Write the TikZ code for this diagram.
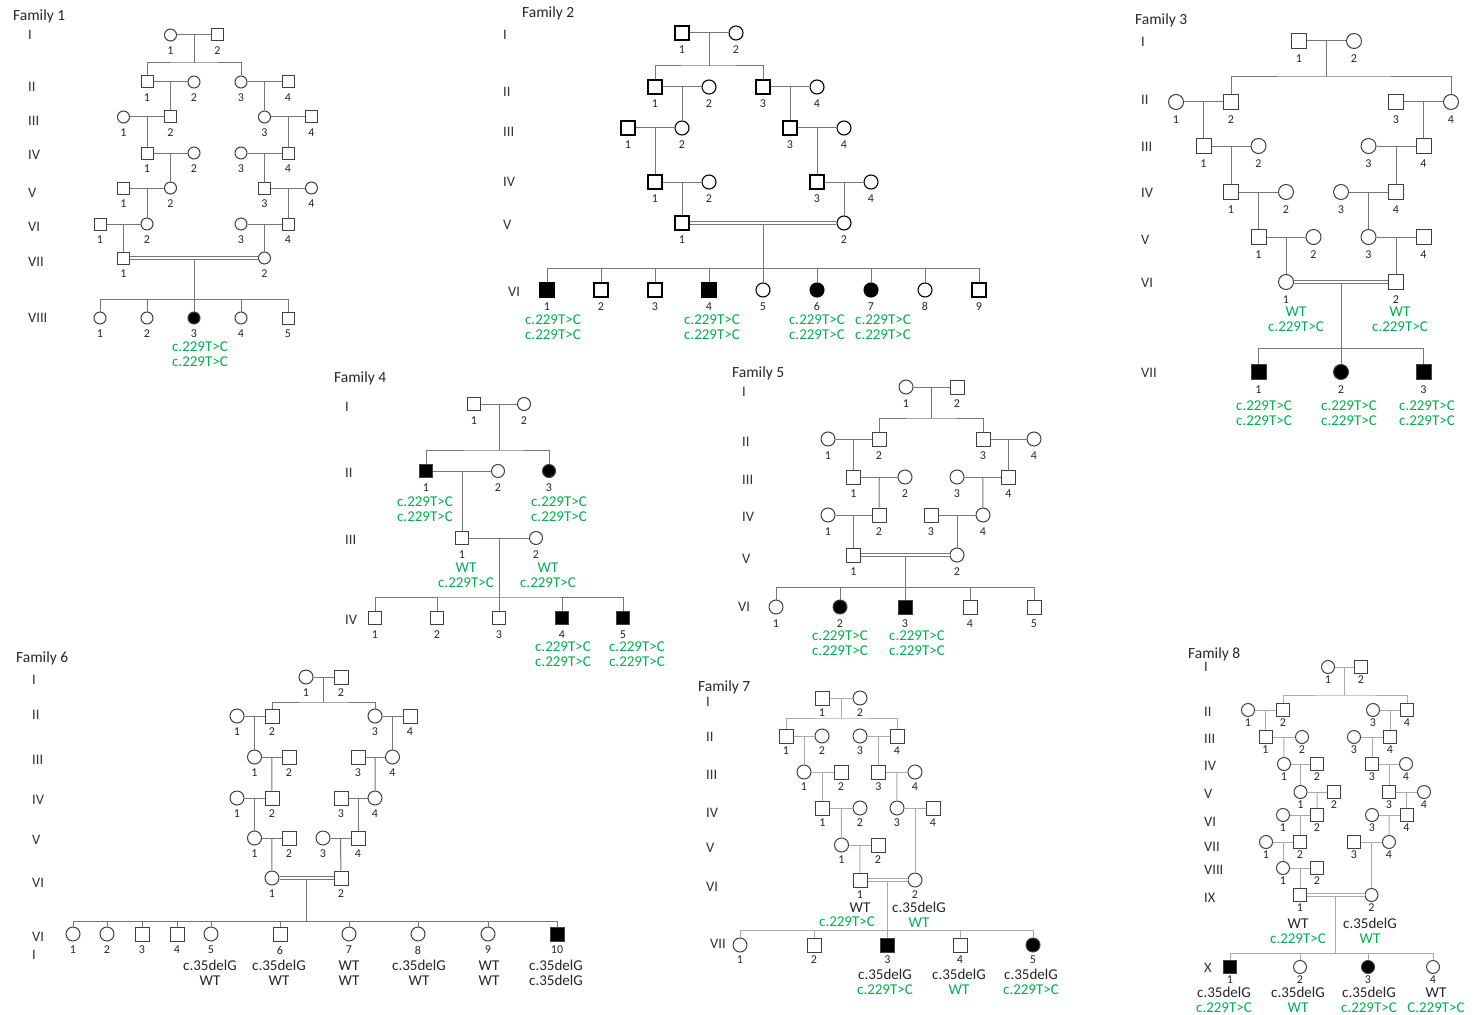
\documentclass[tikz,border=0pt]{standalone}
\usepackage{fontspec}
\setmainfont{Carlito}
\usepackage{xcolor}
\definecolor{gtgreen}{RGB}{0,176,80}
\definecolor{lngray}{RGB}{118,118,118}
\definecolor{lnlight}{RGB}{170,170,170}
\newcommand{\gtblack}[1]{\textcolor{black!85}{#1}}
\usepackage{tikz}
\usetikzlibrary{calc}

\begin{document}
\begin{tikzpicture}[x=1pt,y=-1pt,
  font=\fontsize{11}{12}\selectfont,
  ind/.style={draw=black!75,line width=1pt,minimum size=14pt,inner sep=0pt},
  ma/.style={ind,rectangle},
  fe/.style={ind,circle},
  maa/.style={ma,fill=black},
  fea/.style={fe,fill=black},
  ln/.style={draw=lngray,line width=1pt},
  cons/.style={ln,double=white,double distance=1.8pt,line width=0.9pt},
  gen/.style={anchor=west,inner sep=0pt,align=left,font=\fontsize{14.5}{18}\selectfont,text=black!80},
  ttl/.style={anchor=west,inner sep=0pt,font=\fontsize{15.5}{17}\selectfont,text=black!85},
  gt/.style={inner sep=0pt,align=center,font=\fontsize{15}{14.5}\selectfont,text=gtgreen},
  gk/.style={gt,text=black!85},
  every label/.style={inner sep=0pt,font=\fontsize{12}{13}\selectfont,text=black!85},
  label distance=4pt
]
\path[use as bounding box,fill=white] (0,0) rectangle (1474,1014);

% Family 1
\begin{scope}[ind/.append style={minimum size=12pt},label distance=5.5pt]
\node[ttl] (f1t) at (13,16) {Family 1};
\foreach \g/\y [count=\i] in {I/35,II/87,III/121,IV/155,V/193,VI/227,VII/262,VIII/318}
  \node[gen] (f1r\i) at (28,\y) {\g};
\node[fe,label=below:1] (f1a1) at (170.5,35) {}; \node[ma,label=below:2] (f1a2) at (217.5,35) {};
\node[ma,label=below:1] (f1b1) at (147,82) {}; \node[fe,label=below:2] (f1b2) at (194,82) {};
\node[fe,label=below:3] (f1b3) at (241,82) {}; \node[ma,label=below:4] (f1b4) at (288,82) {};
\node[fe,label=below:1] (f1c1) at (123.5,117) {}; \node[ma,label=below:2] (f1c2) at (170.5,117) {};
\node[fe,label=below:3] (f1c3) at (264.5,117) {}; \node[ma,label=below:4] (f1c4) at (311.5,117) {};
\node[ma,label=below:1] (f1d1) at (147,153) {}; \node[fe,label=below:2] (f1d2) at (194,153) {};
\node[fe,label=below:3] (f1d3) at (241,153) {}; \node[ma,label=below:4] (f1d4) at (288,153) {};
\node[ma,label=below:1] (f1e1) at (123.5,188) {}; \node[fe,label=below:2] (f1e2) at (170.5,188) {};
\node[ma,label=below:3] (f1e3) at (264.5,188) {}; \node[fe,label=below:4] (f1e4) at (311.5,188) {};
\node[ma,label=below:1] (f1f1) at (100,224) {}; \node[fe,label=below:2] (f1f2) at (147,224) {};
\node[fe,label=below:3] (f1f3) at (241,224) {}; \node[ma,label=below:4] (f1f4) at (288,224) {};
\node[ma,label=below:1] (f1g1) at (123.5,258) {}; \node[fe,label=below:2] (f1g2) at (264.5,258) {};
\node[fe,label=below:1] (f1h1) at (100,318) {}; \node[fe,label=below:2] (f1h2) at (147,318) {};
\node[fea,label=below:3] (f1h3) at (194,318) {}; \node[fe,label=below:4] (f1h4) at (241,318) {};
\node[ma,label=below:5] (f1h5) at (288,318) {};
\node[gt] (f1h3g) at (200,354) {c.229T>C\\c.229T>C};
\draw[ln] (f1a1) -- (f1a2) coordinate[midway] (f1ma);
\draw[ln] (f1ma) -- ++(0,28) coordinate (f1sa); \draw[ln] (f1b1) |- (f1sa) -| (f1b3);
\draw[ln] (f1b1) -- (f1b2) coordinate[midway] (f1mb1); \draw[ln] (f1b3) -- (f1b4) coordinate[midway] (f1mb2);
\draw[ln] (f1mb1) -- (f1c2); \draw[ln] (f1mb2) -- (f1c3);
\draw[ln] (f1c1) -- (f1c2) coordinate[midway] (f1mc1); \draw[ln] (f1c3) -- (f1c4) coordinate[midway] (f1mc2);
\draw[ln] (f1mc1) -- (f1d1); \draw[ln] (f1mc2) -- (f1d4);
\draw[ln] (f1d1) -- (f1d2) coordinate[midway] (f1md1); \draw[ln] (f1d3) -- (f1d4) coordinate[midway] (f1md2);
\draw[ln] (f1md1) -- (f1e2); \draw[ln] (f1md2) -- (f1e3);
\draw[ln] (f1e1) -- (f1e2) coordinate[midway] (f1me1); \draw[ln] (f1e3) -- (f1e4) coordinate[midway] (f1me2);
\draw[ln] (f1me1) -- (f1f2); \draw[ln] (f1me2) -- (f1f4);
\draw[ln] (f1f1) -- (f1f2) coordinate[midway] (f1mf1); \draw[ln] (f1f3) -- (f1f4) coordinate[midway] (f1mf2);
\draw[ln] (f1mf1) -- (f1g1); \draw[ln] (f1mf2) -- (f1g2);
\draw[cons] (f1g1) -- (f1g2) coordinate[midway,yshift=-1.4pt] (f1mg);
\draw[ln] (f1mg) -- ++(0,40) coordinate (f1sg); \draw[ln] (f1h1) |- (f1sg) -| (f1h5);
\foreach \k in {2,3,4} \draw[ln] (f1h\k) -- (f1h\k|-f1sg);
\end{scope}

% Family 2
\begin{scope}[ind/.append style={draw=black,line width=1.1pt},label distance=5pt]
\node[ttl] (f2t) at (522,13) {Family 2};
\foreach \g/\y [count=\i] in {I/35,II/92,III/132,IV/182,V/225}
  \node[gen] (f2r\i) at (503,\y) {\g};
\node[gen] (f2r6) at (508,292) {VI};
\node[ma,label=below:1] (f2a1) at (682,33) {}; \node[fe,label=below:2] (f2a2) at (736,33) {};
\node[ma,label=below:1] (f2b1) at (655,87) {}; \node[fe,label=below:2] (f2b2) at (709,87) {};
\node[ma,label=below:3] (f2b3) at (763,87) {}; \node[fe,label=below:4] (f2b4) at (817,87) {};
\node[ma,label=below:1] (f2c1) at (628,128) {}; \node[fe,label=below:2] (f2c2) at (682,128) {};
\node[ma,label=below:3] (f2c3) at (790,128) {}; \node[fe,label=below:4] (f2c4) at (844,128) {};
\node[ma,label=below:1] (f2d1) at (655,182) {}; \node[fe,label=below:2] (f2d2) at (709,182) {};
\node[ma,label=below:3] (f2d3) at (817,182) {}; \node[fe,label=below:4] (f2d4) at (871,182) {};
\node[ma,label=below:1] (f2e1) at (682,223) {}; \node[fe,label=below:2] (f2e2) at (844,223) {};
\node[maa,label=below:1] (f2f1) at (547,290) {}; \node[ma,label=below:2] (f2f2) at (601,290) {};
\node[ma,label=below:3] (f2f3) at (655,290) {}; \node[maa,label=below:4] (f2f4) at (709,290) {};
\node[fe,label=below:5] (f2f5) at (763,290) {}; \node[fea,label=below:6] (f2f6) at (817,290) {};
\node[fea,label=below:7] (f2f7) at (871,290) {}; \node[fe,label=below:8] (f2f8) at (925,290) {};
\node[ma,label=below:9] (f2f9) at (979,290) {};
\node[gt] (f2f1g) at (553,327) {c.229T>C\\c.229T>C};
\node[gt] (f2f4g) at (712,327) {c.229T>C\\c.229T>C};
\node[gt] (f2f6g) at (817,327) {c.229T>C\\c.229T>C};
\node[gt] (f2f7g) at (883,327) {c.229T>C\\c.229T>C};
\draw[ln] (f2a1) -- (f2a2) coordinate[midway] (f2ma);
\draw[ln] (f2ma) -- ++(0,33) coordinate (f2sa); \draw[ln] (f2b1) |- (f2sa) -| (f2b3);
\draw[ln] (f2b1) -- (f2b2) coordinate[midway] (f2mb1); \draw[ln] (f2b3) -- (f2b4) coordinate[midway] (f2mb2);
\draw[ln] (f2mb1) -- (f2c2); \draw[ln] (f2mb2) -- (f2c3);
\draw[ln] (f2c1) -- (f2c2) coordinate[midway] (f2mc1); \draw[ln] (f2c3) -- (f2c4) coordinate[midway] (f2mc2);
\draw[ln] (f2mc1) -- (f2d1); \draw[ln] (f2mc2) -- (f2d3);
\draw[ln] (f2d1) -- (f2d2) coordinate[midway] (f2md1); \draw[ln] (f2d3) -- (f2d4) coordinate[midway] (f2md2);
\draw[ln] (f2md1) -- (f2e1); \draw[ln] (f2md2) -- (f2e2);
\draw[cons] (f2e1) -- (f2e2) coordinate[midway,yshift=-1.4pt] (f2me);
\draw[ln] (f2me) -- ++(0,44) coordinate (f2sf); \draw[ln] (f2f1) |- (f2sf) -| (f2f9);
\foreach \k in {2,...,8} \draw[ln] (f2f\k) -- (f2f\k|-f2sf);
\end{scope}

% Family 3
\begin{scope}[ind/.append style={minimum size=15pt},label distance=6pt]
\node[ttl] (f3t) at (1135,20) {Family 3};
\foreach \g/\y [count=\i] in {I/42,II/100,III/147,IV/193,V/240,VI/283,VII/373}
  \node[gen] (f3r\i) at (1141,\y) {\g};
\node[ma,label=below:1] (f3a1) at (1299,41) {}; \node[fe,label=below:2] (f3a2) at (1354,41) {};
\node[fe,label=below:1] (f3b1) at (1176,102) {}; \node[ma,label=below:2] (f3b2) at (1231,102) {};
\node[ma,label=below:3] (f3b3) at (1396,102) {}; \node[fe,label=below:4] (f3b4) at (1451,102) {};
\node[ma,label=below:1] (f3c1) at (1203.5,146) {}; \node[fe,label=below:2] (f3c2) at (1258.5,146) {};
\node[fe,label=below:3] (f3c3) at (1368.5,146) {}; \node[ma,label=below:4] (f3c4) at (1423.5,146) {};
\node[ma,label=below:1] (f3d1) at (1231,192) {}; \node[fe,label=below:2] (f3d2) at (1286,192) {};
\node[fe,label=below:3] (f3d3) at (1341,192) {}; \node[ma,label=below:4] (f3d4) at (1396,192) {};
\node[ma,label=below:1] (f3e1) at (1258.5,237) {}; \node[fe,label=below:2] (f3e2) at (1313.5,237) {};
\node[fe,label=below:3] (f3e3) at (1368.5,237) {}; \node[ma,label=below:4] (f3e4) at (1423.5,237) {};
\node[fe,label=below:1] (f3f1) at (1286,282) {}; \node[ma,label=below:2] (f3f2) at (1396,282) {};
\node[maa,label=below:1] (f3g1) at (1258.5,372) {}; \node[fea,label=below:2] (f3g2) at (1341,372) {};
\node[maa,label=below:3] (f3g3) at (1423.5,372) {};
\node[gt] (f3f1g) at (1296,319) {WT\\c.229T>C};
\node[gt] (f3f2g) at (1400,319) {WT\\c.229T>C};
\node[gt] (f3g1g) at (1264,413) {c.229T>C\\c.229T>C};
\node[gt] (f3g2g) at (1349,413) {c.229T>C\\c.229T>C};
\node[gt] (f3g3g) at (1427,413) {c.229T>C\\c.229T>C};
\draw[ln] (f3a1) -- (f3a2) coordinate[midway] (f3ma);
\draw[ln] (f3ma) -- ++(0,36) coordinate (f3sa); \draw[ln] (f3b2) |- (f3sa) -| (f3b4);
\draw[ln] (f3b1) -- (f3b2) coordinate[midway] (f3mb1); \draw[ln] (f3b3) -- (f3b4) coordinate[midway] (f3mb2);
\draw[ln] (f3mb1) -- (f3c1); \draw[ln] (f3mb2) -- (f3c4);
\draw[ln] (f3c1) -- (f3c2) coordinate[midway] (f3mc1); \draw[ln] (f3c3) -- (f3c4) coordinate[midway] (f3mc2);
\draw[ln] (f3mc1) -- (f3d1); \draw[ln] (f3mc2) -- (f3d4);
\draw[ln] (f3d1) -- (f3d2) coordinate[midway] (f3md1); \draw[ln] (f3d3) -- (f3d4) coordinate[midway] (f3md2);
\draw[ln] (f3md1) -- (f3e1); \draw[ln] (f3md2) -- (f3e3);
\draw[ln] (f3e1) -- (f3e2) coordinate[midway] (f3me1); \draw[ln] (f3e3) -- (f3e4) coordinate[midway] (f3me2);
\draw[ln] (f3me1) -- (f3f1); \draw[ln] (f3me2) -- (f3f2);
\draw[cons] (f3f1) -- (f3f2) coordinate[midway,yshift=-1.4pt] (f3mf);
\draw[ln] (f3mf) -- ++(0,65) coordinate (f3sg); \draw[ln] (f3g1) |- (f3sg) -| (f3g3);
\draw[ln] (f3g2) -- (f3g2|-f3sg);
\end{scope}

% Family 4
\begin{scope}[ind/.append style={minimum size=13pt},label distance=5.5pt]
\node[ttl] (f4t) at (334,378) {Family 4};
\foreach \g/\y [count=\i] in {I/407,II/473,III/540,IV/620}
  \node[gen] (f4r\i) at (345,\y) {\g};
\node[ma,label=below:1] (f4a1) at (474,404) {}; \node[fe,label=below:2] (f4a2) at (524,404) {};
\node[maa,label=below:1] (f4b1) at (426,471) {}; \node[fe,label=below:2] (f4b2) at (498,471) {};
\node[fea,label=below:3] (f4b3) at (549,471) {};
\node[ma,label=below:1] (f4c1) at (462,538) {}; \node[fe,label=below:2] (f4c2) at (536,538) {};
\node[ma,label=below:1] (f4d1) at (375,618) {}; \node[ma,label=below:2] (f4d2) at (437,618) {};
\node[ma,label=below:3] (f4d3) at (499,618) {}; \node[maa,label=below:4] (f4d4) at (562,618) {};
\node[maa,label=below:5] (f4d5) at (623,618) {};
\node[gt] (f4b1g) at (425,509) {c.229T>C\\c.229T>C};
\node[gt] (f4b3g) at (559,509) {c.229T>C\\c.229T>C};
\node[gt] (f4c1g) at (466,575) {WT\\c.229T>C};
\node[gt] (f4c2g) at (548,575) {WT\\c.229T>C};
\node[gt] (f4d4g) at (563,654) {c.229T>C\\c.229T>C};
\node[gt] (f4d5g) at (637,654) {c.229T>C\\c.229T>C};
\draw[ln] (f4a1) -- (f4a2) coordinate[midway] (f4ma);
\draw[ln] (f4ma) -- ++(0,46) coordinate (f4sa); \draw[ln] (f4b1) |- (f4sa) -| (f4b3);
\draw[ln] (f4b1) -- (f4b2) coordinate[midway] (f4mb); \draw[ln] (f4mb) -- (f4c1);
\draw[ln] (f4c1) -- (f4c2) coordinate[midway] (f4mc);
\draw[ln] (f4mc) -- ++(0,59) coordinate (f4sd); \draw[ln] (f4d1) |- (f4sd) -| (f4d5);
\foreach \k in {2,3,4} \draw[ln] (f4d\k) -- (f4d\k|-f4sd);
\end{scope}

% Family 5
\begin{scope}[label distance=5.5pt]
\node[ttl] (f5t) at (732,373) {Family 5};
\foreach \g/\y [count=\i] in {I/392,II/442,III/480,IV/517,V/559}
  \node[gen] (f5r\i) at (742,\y) {\g};
\node[gen] (f5r6) at (738,607) {VI};
\node[fe,label=below:1] (f5a1) at (906,387) {}; \node[ma,label=below:2] (f5a2) at (957,387) {};
\node[fe,label=below:1] (f5b1) at (828,439) {}; \node[ma,label=below:2] (f5b2) at (879,439) {};
\node[ma,label=below:3] (f5b3) at (983,439) {}; \node[fe,label=below:4] (f5b4) at (1034,439) {};
\node[ma,label=below:1] (f5c1) at (853.5,477) {}; \node[fe,label=below:2] (f5c2) at (905,477) {};
\node[fe,label=below:3] (f5c3) at (957,477) {}; \node[ma,label=below:4] (f5c4) at (1008.5,477) {};
\node[fe,label=below:1] (f5d1) at (828,515) {}; \node[ma,label=below:2] (f5d2) at (879,515) {};
\node[ma,label=below:3] (f5d3) at (931,515) {}; \node[fe,label=below:4] (f5d4) at (983,515) {};
\node[ma,label=below:1] (f5e1) at (853.5,555) {}; \node[fe,label=below:2] (f5e2) at (957,555) {};
\node[fe,label=below:1] (f5f1) at (776,607) {}; \node[fea,label=below:2] (f5f2) at (840,607) {};
\node[maa,label=below:3] (f5f3) at (905,607) {}; \node[ma,label=below:4] (f5f4) at (970,607) {};
\node[ma,label=below:5] (f5f5) at (1034,607) {};
\node[gt] (f5f2g) at (840,643) {c.229T>C\\c.229T>C};
\node[gt] (f5f3g) at (917,643) {c.229T>C\\c.229T>C};
\draw[ln] (f5a1) -- (f5a2) coordinate[midway] (f5ma);
\draw[ln] (f5ma) -- ++(0,31) coordinate (f5sa); \draw[ln] (f5b2) |- (f5sa) -| (f5b3);
\draw[ln] (f5b1) -- (f5b2) coordinate[midway] (f5mb1); \draw[ln] (f5b3) -- (f5b4) coordinate[midway] (f5mb2);
\draw[ln] (f5mb1) -- (f5c1); \draw[ln] (f5mb2) -- (f5c4);
\draw[ln] (f5c1) -- (f5c2) coordinate[midway] (f5mc1); \draw[ln] (f5c3) -- (f5c4) coordinate[midway] (f5mc2);
\draw[ln] (f5mc1) -- (f5d2); \draw[ln] (f5mc2) -- (f5d4);
\draw[ln] (f5d1) -- (f5d2) coordinate[midway] (f5md1); \draw[ln] (f5d3) -- (f5d4) coordinate[midway] (f5md2);
\draw[ln] (f5md1) -- (f5e1); \draw[ln] (f5md2) -- (f5e2);
\draw[cons] (f5e1) -- (f5e2) coordinate[midway,yshift=-1.4pt] (f5me);
\draw[ln] (f5me) -- ++(0,31) coordinate (f5sf); \draw[ln] (f5f1) |- (f5sf) -| (f5f5);
\foreach \k in {2,3,4} \draw[ln] (f5f\k) -- (f5f\k|-f5sf);
\end{scope}

% Family 6
\begin{scope}[label distance=4.5pt]
\node[ttl] (f6t) at (16,658) {Family 6};
\foreach \g/\y [count=\i] in {I/680,II/715,III/760,IV/800,V/840,VI/883}
  \node[gen] (f6r\i) at (32,\y) {\g};
\node[gen] (f6r7) at (32,946) {VI\\I};
\node[fe,label=below:1] (f6a1) at (306,677) {}; \node[ma,label=below:2] (f6a2) at (341,677) {};
\node[fe,label=below:1] (f6b1) at (237,716) {}; \node[ma,label=below:2] (f6b2) at (272,716) {};
\node[fe,label=below:3] (f6b3) at (375,716) {}; \node[ma,label=below:4] (f6b4) at (410,716) {};
\node[fe,label=below:1] (f6c1) at (254.5,757) {}; \node[ma,label=below:2] (f6c2) at (289,757) {};
\node[ma,label=below:3] (f6c3) at (358,757) {}; \node[fe,label=below:4] (f6c4) at (392.5,757) {};
\node[fe,label=below:1] (f6d1) at (237,798) {}; \node[ma,label=below:2] (f6d2) at (272,798) {};
\node[ma,label=below:3] (f6d3) at (341,798) {}; \node[fe,label=below:4] (f6d4) at (375,798) {};
\node[fe,label=below:1] (f6e1) at (254.5,838) {}; \node[ma,label=below:2] (f6e2) at (289,838) {};
\node[fe,label=below:3] (f6e3) at (323,838) {}; \node[ma,label=below:4] (f6e4) at (358,838) {};
\node[fe,label=below:1] (f6f1) at (272,878) {}; \node[ma,label=below:2] (f6f2) at (341,878) {};
\node[fe,label=below:1] (f6g1) at (73,934) {}; \node[fe,label=below:2] (f6g2) at (107,934) {};
\node[ma,label=below:3] (f6g3) at (142,934) {}; \node[ma,label=below:4] (f6g4) at (177,934) {};
\node[fe,label=below:5] (f6g5) at (211,934) {}; \node[ma,label=below:6] (f6g6) at (280,934) {};
\node[fe,label=below:7] (f6g7) at (349,934) {}; \node[fe,label=below:8] (f6g8) at (418,934) {};
\node[fe,label=below:9] (f6g9) at (488,934) {}; \node[maa,label=below:10] (f6g10) at (557,934) {};
\node[gk] (f6g5g) at (210,973) {c.35delG\\WT};
\node[gk] (f6g6g) at (279,973) {c.35delG\\WT};
\node[gk] (f6g7g) at (349,973) {WT\\WT};
\node[gk] (f6g8g) at (419,973) {c.35delG\\WT};
\node[gk] (f6g9g) at (489,973) {WT\\WT};
\node[gk] (f6g10g) at (556,973) {c.35delG\\c.35delG};
\draw[ln] (f6a1) -- (f6a2) coordinate[midway] (f6ma);
\draw[ln] (f6ma) -- ++(0,25) coordinate (f6sa); \draw[ln] (f6b2) |- (f6sa) -| (f6b3);
\draw[ln] (f6b1) -- (f6b2) coordinate[midway] (f6mb1); \draw[ln] (f6b3) -- (f6b4) coordinate[midway] (f6mb2);
\draw[ln] (f6mb1) -- (f6c1); \draw[ln] (f6mb2) -- (f6c4);
\draw[ln] (f6c1) -- (f6c2) coordinate[midway] (f6mc1); \draw[ln] (f6c3) -- (f6c4) coordinate[midway] (f6mc2);
\draw[ln] (f6mc1) -- (f6d2); \draw[ln] (f6mc2) -- (f6d4);
\draw[ln] (f6d1) -- (f6d2) coordinate[midway] (f6md1); \draw[ln] (f6d3) -- (f6d4) coordinate[midway] (f6md2);
\draw[ln] (f6md1) -- (f6e1); \draw[ln] (f6md2) -- (f6e4);
\draw[ln] (f6e1) -- (f6e2) coordinate[midway] (f6me1); \draw[ln] (f6e3) -- (f6e4) coordinate[midway] (f6me2);
\draw[ln] (f6me1) -- (f6f1); \draw[ln] (f6me2) -- (f6f2);
\draw[cons] (f6f1) -- (f6f2) coordinate[midway,yshift=-1.4pt] (f6mf);
\draw[ln] (f6mf) -- ++(0,42) coordinate (f6sg); \draw[ln] (f6g1) |- (f6sg) -| (f6g10);
\foreach \k in {2,...,9} \draw[ln] (f6g\k) -- (f6g\k|-f6sg);
\end{scope}

% Family 7
\begin{scope}[ln/.append style={draw=lnlight},label distance=3.5pt]
\node[ttl] (f7t) at (698,687) {Family 7};
\foreach \g/\y [count=\i] in {I/702,II/737,III/775,IV/813,V/848,VI/887}
  \node[gen] (f7r\i) at (706,\y) {\g};
\node[gen] (f7r7) at (710,944) {VII};
\node[ma,label=below:1] (f7a1) at (822,698) {}; \node[fe,label=below:2] (f7a2) at (860,698) {};
\node[ma,label=below:1] (f7b1) at (786,736) {}; \node[fe,label=below:2] (f7b2) at (822,736) {};
\node[fe,label=below:3] (f7b3) at (860,736) {}; \node[ma,label=below:4] (f7b4) at (897,736) {};
\node[fe,label=below:1] (f7c1) at (804,772) {}; \node[ma,label=below:2] (f7c2) at (841,772) {};
\node[ma,label=below:3] (f7c3) at (878.5,772) {}; \node[fe,label=below:4] (f7c4) at (915,772) {};
\node[ma,label=below:1] (f7d1) at (822.5,808) {}; \node[fe,label=below:2] (f7d2) at (860,808) {};
\node[fe,label=below:3] (f7d3) at (897,808) {}; \node[ma,label=below:4] (f7d4) at (933,808) {};
\node[fe,label=below:1] (f7e1) at (841.5,845) {}; \node[ma,label=below:2] (f7e2) at (878,845) {};
\node[ma,label=below:1] (f7f1) at (860,880) {}; \node[fe,label=below:2] (f7f2) at (915,880) {};
\node[fe,label=below:1] (f7g1) at (740,945) {}; \node[ma,label=below:2] (f7g2) at (814,945) {};
\node[maa,label=below:3] (f7g3) at (887.5,945) {}; \node[ma,label=below:4] (f7g4) at (960,945) {};
\node[fea,label=below:5] (f7g5) at (1033,945) {};
\node[gk] (f7f1g) at (860,908) {WT};
\node[gt] (f7f1h) at (847,922) {c.229T>C};
\node[gt] (f7f2g) at (919,915) {\gtblack{c.35delG}\\WT};
\node[gt] (f7g3g) at (885,982) {\gtblack{c.35delG}\\c.229T>C};
\node[gt] (f7g4g) at (959,982) {\gtblack{c.35delG}\\WT};
\node[gt] (f7g5g) at (1031,982) {\gtblack{c.35delG}\\c.229T>C};
\draw[ln] (f7a1) -- (f7a2) coordinate[midway] (f7ma);
\draw[ln] (f7ma) -- ++(0,20) coordinate (f7sa); \draw[ln] (f7b1) |- (f7sa) -| (f7b4);
\draw[ln] (f7b1) -- (f7b2) coordinate[midway] (f7mb1); \draw[ln] (f7b3) -- (f7b4) coordinate[midway] (f7mb2);
\draw[ln] (f7mb1) -- (f7c1); \draw[ln] (f7mb2) -- (f7c3);
\draw[ln] (f7c1) -- (f7c2) coordinate[midway] (f7mc1); \draw[ln] (f7c3) -- (f7c4) coordinate[midway] (f7mc2);
\draw[ln] (f7mc1) -- (f7d1); \draw[ln] (f7mc2) -- (f7d3);
\draw[ln] (f7d1) -- (f7d2) coordinate[midway] (f7md1); \draw[ln] (f7d3) -- (f7d4) coordinate[midway] (f7md2);
\draw[ln] (f7md1) -- (f7e1); \draw[ln] (f7md2) -- (f7f2);
\draw[ln] (f7e1) -- (f7e2) coordinate[midway] (f7me); \draw[ln] (f7me) -- (f7f1);
\draw[cons] (f7f1) -- (f7f2) coordinate[midway,yshift=-1.4pt] (f7mf);
\draw[ln] (f7mf) -- ++(0,49) coordinate (f7sg); \draw[ln] (f7g1) |- (f7sg) -| (f7g5);
\foreach \k in {2,3,4} \draw[ln] (f7g\k) -- (f7g\k|-f7sg);
\end{scope}

% Family 8
\begin{scope}[ln/.append style={draw=lnlight},ind/.append style={minimum size=13pt},label distance=1.5pt]
\node[ttl] (f8t) at (1188,654) {Family 8};
\foreach \g/\y [count=\i] in {I/667,II/712,III/739,IV/766,V/794,VI/822,VII/847,VIII/870,IX/898,X/968}
  \node[gen] (f8r\i) at (1204,\y) {\g};
\node[fe,label=below:1] (f8a1) at (1328,667) {}; \node[ma,label=below:2] (f8a2) at (1361,667) {};
\node[fe,label=below:1] (f8b1) at (1248,710) {}; \node[ma,label=below:2] (f8b2) at (1283,710) {};
\node[fe,label=below:3] (f8b3) at (1373,710) {}; \node[ma,label=below:4] (f8b4) at (1407,710) {};
\node[ma,label=below:1] (f8c1) at (1265.5,737) {}; \node[fe,label=below:2] (f8c2) at (1302,737) {};
\node[fe,label=below:3] (f8c3) at (1354,737) {}; \node[ma,label=below:4] (f8c4) at (1390,737) {};
\node[fe,label=below:1] (f8d1) at (1284,764) {}; \node[ma,label=below:2] (f8d2) at (1317,764) {};
\node[ma,label=below:3] (f8d3) at (1372,764) {}; \node[fe,label=below:4] (f8d4) at (1406,764) {};
\node[fe,label=below:1] (f8e1) at (1300.5,792) {}; \node[ma,label=below:2] (f8e2) at (1334,792) {};
\node[ma,label=below:3] (f8e3) at (1389,792) {}; \node[fe,label=below:4] (f8e4) at (1424,792) {};
\node[fe,label=below:1] (f8f1) at (1283,815) {}; \node[ma,label=below:2] (f8f2) at (1317,815) {};
\node[fe,label=below:3] (f8f3) at (1372,815) {}; \node[ma,label=below:4] (f8f4) at (1406.5,815) {};
\node[fe,label=below:1] (f8g1) at (1266,842) {}; \node[ma,label=below:2] (f8g2) at (1300,842) {};
\node[ma,label=below:3] (f8g3) at (1354,842) {}; \node[fe,label=below:4] (f8g4) at (1389,842) {};
\node[fe,label=below:1] (f8h1) at (1283,868) {}; \node[ma,label=below:2] (f8h2) at (1317,868) {};
\node[ma,label=below:1] (f8i1) at (1300,895) {}; \node[fe,label=below:2] (f8i2) at (1371.5,895) {};
\node[maa,label=below:1] (f8j1) at (1230,967) {}; \node[fe,label=below:2] (f8j2) at (1300,967) {};
\node[fea,label=below:3] (f8j3) at (1368,967) {}; \node[fe,label=below:4] (f8j4) at (1433,967) {};
\node[gt] (f8i1g) at (1298,931) {\gtblack{WT}\\c.229T>C};
\node[gt] (f8i2g) at (1370,931) {\gtblack{c.35delG}\\WT};
\node[gt] (f8j1g) at (1224,1000) {\gtblack{c.35delG}\\c.229T>C};
\node[gt] (f8j2g) at (1298,1000) {\gtblack{c.35delG}\\WT};
\node[gt] (f8j3g) at (1369,1000) {\gtblack{c.35delG}\\c.229T>C};
\node[gt] (f8j4g) at (1436,1000) {\gtblack{WT}\\C.229T>C};
\draw[ln] (f8a1) -- (f8a2) coordinate[midway] (f8ma);
\draw[ln] (f8ma) -- ++(0,28) coordinate (f8sa); \draw[ln] (f8b2) |- (f8sa) -| (f8b4);
\draw[ln] (f8b1) -- (f8b2) coordinate[midway] (f8mb1); \draw[ln] (f8b3) -- (f8b4) coordinate[midway] (f8mb2);
\draw[ln] (f8mb1) -- (f8c1); \draw[ln] (f8mb2) -- (f8c4);
\draw[ln] (f8c1) -- (f8c2) coordinate[midway] (f8mc1); \draw[ln] (f8c3) -- (f8c4) coordinate[midway] (f8mc2);
\draw[ln] (f8mc1) -- (f8d1); \draw[ln] (f8mc2) -- (f8d3);
\draw[ln] (f8d1) -- (f8d2) coordinate[midway] (f8md1); \draw[ln] (f8d3) -- (f8d4) coordinate[midway] (f8md2);
\draw[ln] (f8md1) -- (f8e1); \draw[ln] (f8md2) -- (f8e3);
\draw[ln] (f8e1) -- (f8e2) coordinate[midway] (f8me1); \draw[ln] (f8e3) -- (f8e4) coordinate[midway] (f8me2);
\draw[ln] (f8me1) -- (f8f2); \draw[ln] (f8me2) -- (f8f4);
\draw[ln] (f8f1) -- (f8f2) coordinate[midway] (f8mf1); \draw[ln] (f8f3) -- (f8f4) coordinate[midway] (f8mf2);
\draw[ln] (f8mf1) -- (f8g2); \draw[ln] (f8mf2) -- (f8g4);
\draw[ln] (f8g1) -- (f8g2) coordinate[midway] (f8mg1); \draw[ln] (f8g3) -- (f8g4) coordinate[midway] (f8mg2);
\draw[ln] (f8mg1) -- (f8h1); \draw[ln] (f8mg2) -- (f8i2);
\draw[ln] (f8h1) -- (f8h2) coordinate[midway] (f8mh); \draw[ln] (f8mh) -- (f8i1);
\draw[cons] (f8i1) -- (f8i2) coordinate[midway,yshift=-1.4pt] (f8mi);
\draw[ln] (f8mi) -- ++(0,57) coordinate (f8sj); \draw[ln] (f8j1) |- (f8sj) -| (f8j4);
\foreach \k in {2,3} \draw[ln] (f8j\k) -- (f8j\k|-f8sj);
\end{scope}
\end{tikzpicture}
\end{document}
